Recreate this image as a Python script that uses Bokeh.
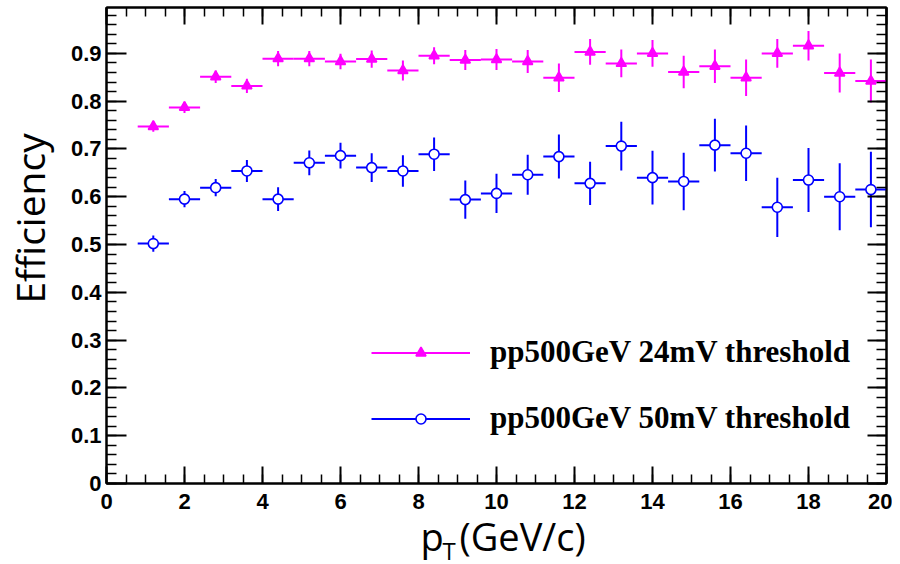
import math
import numpy as np
from bokeh.plotting import figure
from bokeh.layouts import row, column
from bokeh.models import (FixedTicker, LinearAxis, Range1d, Label, Legend,
                          LegendItem, ColumnDataSource, CustomLabelingPolicy)
from bokeh.embed import file_html
from bokeh.resources import INLINE

# ---------------- data ----------------
pt = [1.2, 2.0, 2.8, 3.6, 4.4, 5.2, 6.0, 6.8, 7.6, 8.4, 9.2, 10.0,
      10.8, 11.6, 12.4, 13.2, 14.0, 14.8, 15.6, 16.4, 17.2, 18.0, 18.8, 19.6]
bin_half_width = 0.4

eff_24mV = [0.747, 0.787, 0.851, 0.832, 0.889, 0.889, 0.883, 0.888, 0.864, 0.895,
            0.886, 0.887, 0.883, 0.849, 0.903, 0.879, 0.900, 0.861, 0.873, 0.849,
            0.900, 0.916, 0.859, 0.842]
err_24mV = [0.011, 0.012, 0.013, 0.015, 0.016, 0.016, 0.016, 0.018, 0.021, 0.018,
            0.021, 0.022, 0.024, 0.030, 0.027, 0.029, 0.028, 0.034, 0.035, 0.038,
            0.030, 0.031, 0.041, 0.045]

eff_50mV = [0.502, 0.595, 0.619, 0.654, 0.595, 0.671, 0.686, 0.661, 0.654, 0.689,
            0.594, 0.607, 0.646, 0.684, 0.628, 0.706, 0.640, 0.632, 0.708, 0.691,
            0.578, 0.635, 0.600, 0.615]
err_50mV = [0.017, 0.017, 0.018, 0.023, 0.025, 0.026, 0.027, 0.030, 0.033, 0.035,
            0.040, 0.041, 0.042, 0.046, 0.045, 0.051, 0.056, 0.060, 0.055, 0.058,
            0.062, 0.067, 0.070, 0.079]

label_24mV = "pp500GeV 24mV threshold"
label_50mV = "pp500GeV 50mV threshold"
y_title = "Efficiency"
x_title_main = "p"
x_title_sub = "T"
x_title_rest = "(GeV/c)"

x_major = [0, 2, 4, 6, 8, 10, 12, 14, 16, 18, 20]
y_major = [0, 0.1, 0.2, 0.3, 0.4, 0.5, 0.6, 0.7, 0.8, 0.9]
x_min, x_max = 0, 20
y_min, y_max = 0, 0.996

MAGENTA = "#ff00ff"
BLUE = "#0000ff"

# ---------------- layout sizes (pixels) ----------------
LEFT_W = 60          # strip holding the y title
MAIN_BL = 46         # main plot left border -> frame starts at x = 106
FRAME_W, FRAME_H = 780, 476
MAIN_BT, MAIN_BR, MAIN_BB = 7, 6, 36
MAIN_H = MAIN_BT + FRAME_H + MAIN_BB
TOTAL_W = LEFT_W + MAIN_BL + FRAME_W + MAIN_BR
BOTTOM_H = 564 - MAIN_H

# ---------------- main figure ----------------
p = figure(frame_width=FRAME_W, frame_height=FRAME_H,
           x_range=Range1d(x_min, x_max), y_range=Range1d(y_min, y_max),
           output_backend="svg", toolbar_location=None,
           min_border_left=MAIN_BL, min_border_right=MAIN_BR,
           min_border_top=MAIN_BT, min_border_bottom=MAIN_BB,
           background_fill_color="white", border_fill_color="white")
p.xgrid.visible = False
p.ygrid.visible = False
p.outline_line_color = "black"
p.outline_line_width = 2

x_minor = [round(v, 2) for v in np.arange(0, 20.01, 0.5)]
y_minor = [round(v, 3) for v in np.arange(0, 0.99, 0.02)]
xticker = FixedTicker(ticks=x_major, minor_ticks=x_minor)
yticker = FixedTicker(ticks=y_major, minor_ticks=y_minor)

no_labels = CustomLabelingPolicy(code="""
for (const i of indices) { indices.unset(i) }
return indices
""")


def style_axis(ax, ticker, major_in, minor_in, labels=True, standoff=8):
    ax.ticker = ticker
    ax.major_tick_in = major_in
    ax.major_tick_out = 0
    ax.minor_tick_in = minor_in
    ax.minor_tick_out = 0
    ax.axis_line_color = "black"
    ax.axis_line_width = 2
    ax.major_tick_line_color = "black"
    ax.major_tick_line_width = 2
    ax.minor_tick_line_color = "black"
    ax.minor_tick_line_width = 1.5
    ax.axis_label = None
    ax.major_label_text_font = "Liberation Sans"
    ax.major_label_text_font_style = "bold"
    ax.major_label_text_color = "black"
    if labels:
        ax.major_label_text_font_size = "22px"
        ax.major_label_standoff = standoff
    else:
        ax.major_label_policy = no_labels
        ax.major_label_text_font_size = "1px"
        ax.major_label_standoff = 0
        ax.axis_label_standoff = 0


style_axis(p.xaxis[0], xticker, 17, 9, True, 10)
style_axis(p.yaxis[0], yticker, 20, 10, True, 5)
p.yaxis[0].major_label_overrides = {0: "0"}

top_ax = LinearAxis()
style_axis(top_ax, xticker, 17, 9, False)
p.add_layout(top_ax, "above")
right_ax = LinearAxis()
style_axis(right_ax, yticker, 19, 10, False)
p.add_layout(right_ax, "right")


# ---------------- data series with error bars ----------------
def add_series(y, err, color, marker, fill):
    src = ColumnDataSource(dict(
        x=pt, y=y,
        xl=[v - bin_half_width for v in pt], xr=[v + bin_half_width for v in pt],
        yl=[a - b for a, b in zip(y, err)], yh=[a + b for a, b in zip(y, err)]))
    hseg = p.segment(x0="xl", y0="y", x1="xr", y1="y", source=src,
                     line_color=color, line_width=2)
    p.segment(x0="x", y0="yl", x1="x", y1="yh", source=src,
              line_color=color, line_width=2)
    sc = p.scatter(x="x", y="y", source=src, marker=marker, size=10,
                   line_color=color, fill_color=fill, line_width=1.6)
    return hseg, sc


h24, sc24 = add_series(eff_24mV, err_24mV, MAGENTA, "triangle", MAGENTA)
h50, sc50 = add_series(eff_50mV, err_50mV, BLUE, "circle", "white")

legend = Legend(items=[LegendItem(label=label_24mV, renderers=[h24, sc24]),
                       LegendItem(label=label_50mV, renderers=[h50, sc50])],
                location=(265, 47), orientation="vertical",
                glyph_width=99, glyph_height=25, label_standoff=20,
                spacing=30, padding=0, margin=0,
                border_line_alpha=0, background_fill_alpha=0,
                label_text_font="Liberation Serif", label_text_font_style="bold",
                label_text_font_size="31px", label_text_color="black")
p.add_layout(legend)


# ---------------- strips for the axis titles ----------------
def blank_fig(w, h):
    f = figure(width=w, height=h, x_range=Range1d(0, w), y_range=Range1d(0, h),
               x_axis_location=None, y_axis_location=None,
               output_backend="svg", toolbar_location=None,
               min_border=0, outline_line_color=None,
               background_fill_color="white", border_fill_color="white")
    for g in f.grid:
        g.visible = False
    return f


left = blank_fig(LEFT_W, MAIN_H)
left.add_layout(Label(x=29, y=MAIN_H - 230, text=y_title, angle=math.pi / 2,
                      text_font="Open Sans", text_font_size="39px",
                      text_align="center", text_baseline="alphabetic",
                      text_color="black"))

bottom = blank_fig(TOTAL_W, BOTTOM_H)
bottom.add_layout(Label(x=420, y=29, text=x_title_main,
                        text_font="Open Sans", text_font_size="38px",
                        text_align="left", text_baseline="alphabetic",
                        text_color="black"))
bottom.add_layout(Label(x=442, y=14, text=x_title_sub,
                        text_font="Open Sans", text_font_size="24px",
                        text_align="left", text_baseline="alphabetic",
                        text_color="black"))
bottom.add_layout(Label(x=459, y=29, text=x_title_rest,
                        text_font="Open Sans", text_font_size="38px",
                        text_align="left", text_baseline="alphabetic",
                        text_color="black"))

page = column(row(left, p, spacing=0), bottom, spacing=0)
open("out.html", "w").write(file_html(page, INLINE))
